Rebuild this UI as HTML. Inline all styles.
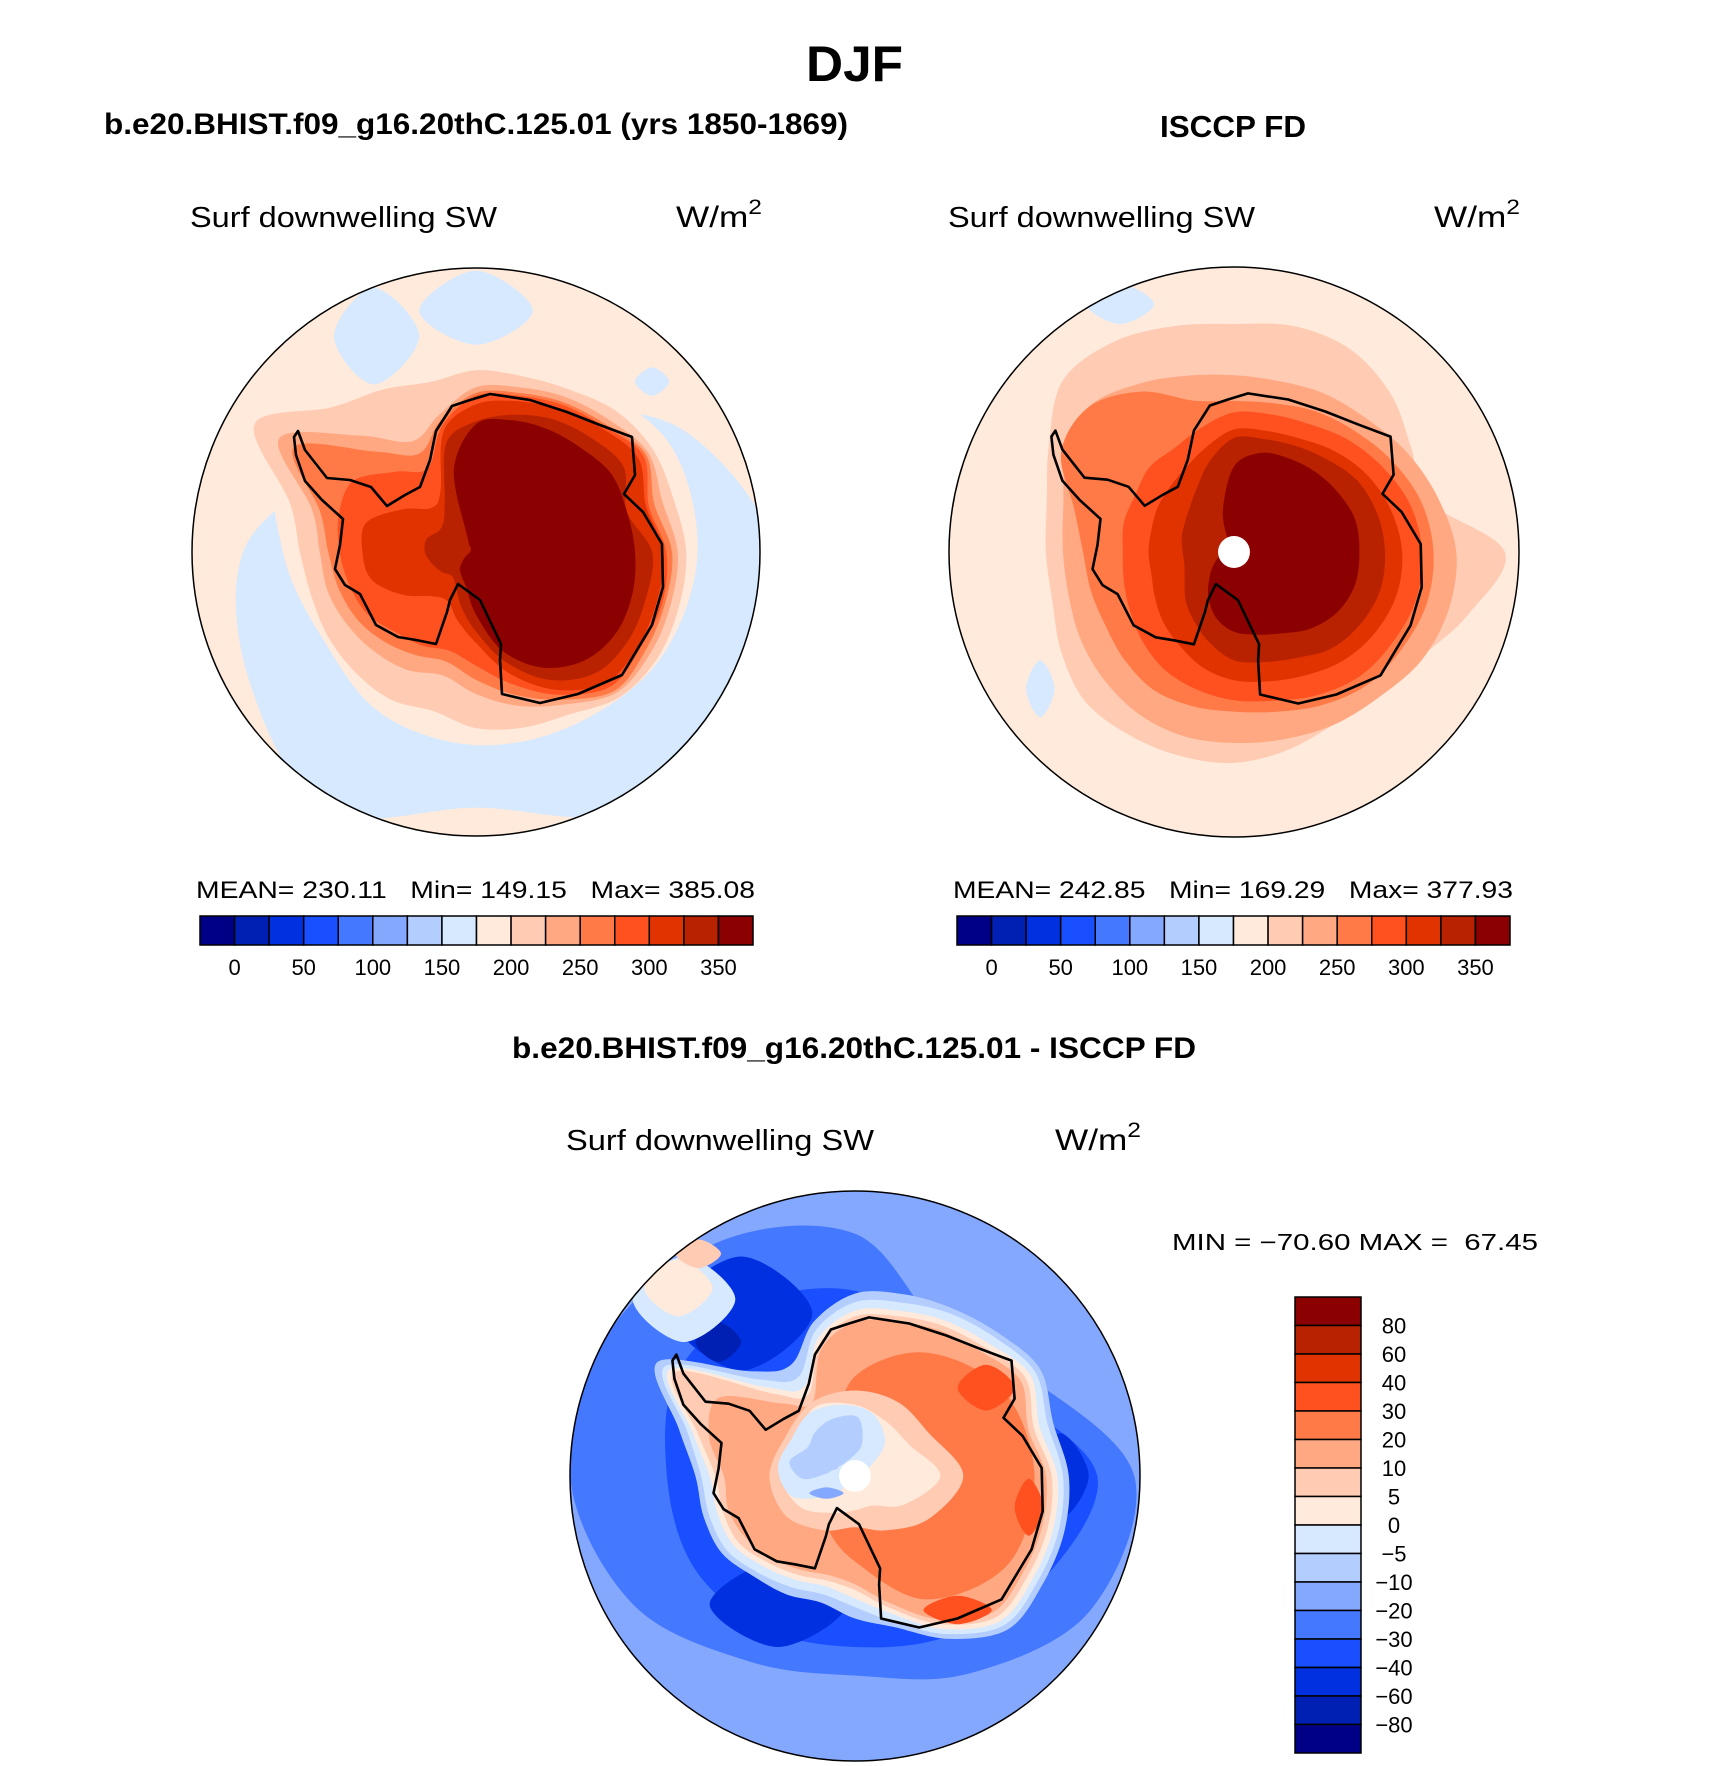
<!DOCTYPE html>
<html><head><meta charset="utf-8"><title>DJF Surf downwelling SW</title>
<style>html,body{margin:0;padding:0;background:#fff}svg{display:block}
text{font-family:"Liberation Sans",Arial,sans-serif;fill:#000}</style></head>
<body>
<svg id="fig" width="1710" height="1766" viewBox="0 0 1710 1766" xmlns="http://www.w3.org/2000/svg">
<rect width="1710" height="1766" fill="#fff"/>
<text x="806" y="81" font-size="50" font-weight="bold" textLength="97" lengthAdjust="spacingAndGlyphs">DJF</text>
<text x="104" y="134" font-size="30" font-weight="bold" textLength="744" lengthAdjust="spacingAndGlyphs">b.e20.BHIST.f09_g16.20thC.125.01 (yrs 1850-1869)</text>
<text x="1160" y="137" font-size="31" font-weight="bold" textLength="146" lengthAdjust="spacingAndGlyphs">ISCCP FD</text>
<text x="512" y="1058" font-size="30" font-weight="bold" textLength="684" lengthAdjust="spacingAndGlyphs">b.e20.BHIST.f09_g16.20thC.125.01 - ISCCP FD</text>

<text x="190" y="227" font-size="29" textLength="307" lengthAdjust="spacingAndGlyphs">Surf  downwelling  SW</text>
<text x="676" y="227" font-size="30" textLength="86" lengthAdjust="spacingAndGlyphs">W/m<tspan font-size="21" dy="-13">2</tspan></text>
<text x="948" y="227" font-size="29" textLength="307" lengthAdjust="spacingAndGlyphs">Surf  downwelling  SW</text>
<text x="1434" y="227" font-size="30" textLength="86" lengthAdjust="spacingAndGlyphs">W/m<tspan font-size="21" dy="-13">2</tspan></text>
<text x="566" y="1150" font-size="29" textLength="308" lengthAdjust="spacingAndGlyphs">Surf  downwelling  SW</text>
<text x="1055" y="1150" font-size="30" textLength="86" lengthAdjust="spacingAndGlyphs">W/m<tspan font-size="21" dy="-13">2</tspan></text>

<text x="196" y="898" font-size="24" textLength="559" lengthAdjust="spacingAndGlyphs" xml:space="preserve">MEAN= 230.11   Min= 149.15   Max= 385.08</text>
<text x="953" y="898" font-size="24" textLength="560" lengthAdjust="spacingAndGlyphs" xml:space="preserve">MEAN= 242.85   Min= 169.29   Max= 377.93</text>
<text x="1172" y="1250" font-size="23" textLength="366" lengthAdjust="spacingAndGlyphs" xml:space="preserve">MIN = −70.60 MAX =  67.45</text>

<defs>
<clipPath id="clipTL"><circle cx="476" cy="552" r="284"/></clipPath>
<clipPath id="clipTR"><circle cx="1234" cy="552" r="285"/></clipPath>
<clipPath id="clipB"><circle cx="855" cy="1476" r="285"/></clipPath>
</defs>
<g id="mapTL" clip-path="url(#clipTL)"></g>
<g id="mapTR" clip-path="url(#clipTR)"></g>
<g id="mapB" clip-path="url(#clipB)"></g>
<g id="overlay"></g>
<g id="cbars"></g>
</svg>
<script>
// ---------- palette & colorbar data ----------
const palette = ['#000087','#0020b4','#0030e0','#1a4fff','#4478ff','#85a8ff','#b4cdff','#d6e9ff','#ffeadb','#ffcbb3','#ffa882','#ff7a46','#ff5020','#e13300','#b82200','#8b0000'];
const absTickLabels = ['0','50','100','150','200','250','300','350'];
const absTickBoundary = [1,3,5,7,9,11,13,15];
const diffTickLabels = ['80','60','40','30','20','10','5','0','−5','−10','−20','−30','−40','−60','−80'];

// ---------- top-left (model) field: contour shapes, normalized to disk radius ----------
const tlLevel = [7,8,7,7,7,9,10,11,12,13,14,15];
const tlCx = [0,0,-0.36,0.0,0.62,0,0,0,0,0,0,0];
const tlCy = [0,0,0.76,0.85,0.6,0,0,0,0,0,0,0];
const tlRadii = [
 [1.05,0.85,0.6,0.6,0.6,0.6,0.82,0.92,1.05,0.9,1.05,1.05],
 [0.78,0.78,0.7,0.7,0.7,0.8,0.68,0.62,0.66,0.68,0.7,0.75],
 [0.16,0.17,0.14,0.17],
 [0.2,0.14,0.2,0.12],
 [0.06,0.05,0.06,0.05],
 [0.74,0.72,0.72,0.7,0.66,0.64,0.64,0.62,0.66,0.72,0.9,0.68,0.62,0.6,0.6,0.6,0.6,0.58,0.62,0.64,0.66,0.72,0.74,0.74],
 [0.71,0.68,0.7,0.66,0.63,0.6,0.58,0.5,0.45,0.58,0.8,0.6,0.55,0.54,0.52,0.5,0.48,0.45,0.5,0.56,0.62,0.7,0.71,0.71],
 [0.69,0.65,0.69,0.64,0.61,0.58,0.56,0.48,0.4,0.5,0.74,0.57,0.52,0.5,0.48,0.45,0.42,0.4,0.45,0.52,0.6,0.69,0.69,0.69],
 [0.67,0.63,0.68,0.63,0.6,0.57,0.55,0.46,0.34,0.4,0.5,0.5,0.48,0.46,0.44,0.4,0.38,0.36,0.4,0.48,0.58,0.67,0.67,0.68],
 [0.66,0.62,0.66,0.62,0.58,0.55,0.52,0.44,0.25,0.22,0.3,0.4,0.4,0.38,0.3,0.22,0.2,0.25,0.32,0.44,0.56,0.65,0.66,0.66],
 [0.62,0.55,0.6,0.57,0.54,0.5,0.46,0.4,0.22,0.16,0.15,0.18,0.18,0.16,0.14,0.12,0.14,0.2,0.28,0.4,0.52,0.6,0.62,0.62],
 [0.56,0.55,0.55,0.52,0.5,0.48,0.45,0.3,0.06,0.03,0.02,0.02,0.02,0.03,0.05,0.08,0.1,0.13,0.22,0.36,0.47,0.54,0.57,0.57]
];

// ---------- top-right (ISCCP) field ----------
const trLevel = [7,7,9,10,11,12,13,14,15];
const trCx = [-0.4,-0.68,0,0,0,0,0,0,0];
const trCy = [0.87,-0.48,0,0,0,0,0,0,0];
const trRadii = [
 [0.12,0.07,0.12,0.07],
 [0.05,0.1,0.05,0.1],
 [0.95,0.7,0.72,0.78,0.82,0.82,0.8,0.82,0.85,0.85,0.75,0.68,0.66,0.66,0.7,0.74,0.74,0.74,0.74,0.72,0.7,0.72,0.75,0.85],
 [0.78,0.74,0.7,0.66,0.64,0.62,0.62,0.64,0.68,0.72,0.68,0.62,0.6,0.6,0.62,0.64,0.66,0.67,0.67,0.68,0.7,0.72,0.76,0.78],
 [0.7,0.68,0.64,0.6,0.57,0.54,0.53,0.55,0.65,0.72,0.7,0.58,0.53,0.52,0.52,0.54,0.56,0.56,0.56,0.58,0.62,0.66,0.68,0.7],
 [0.66,0.64,0.6,0.56,0.52,0.5,0.49,0.45,0.42,0.42,0.4,0.4,0.39,0.4,0.42,0.45,0.48,0.5,0.52,0.54,0.58,0.62,0.64,0.66],
 [0.59,0.57,0.54,0.5,0.46,0.44,0.43,0.38,0.34,0.32,0.31,0.3,0.3,0.3,0.32,0.35,0.38,0.42,0.45,0.47,0.5,0.54,0.57,0.59],
 [0.53,0.52,0.5,0.46,0.43,0.41,0.4,0.33,0.26,0.22,0.2,0.19,0.18,0.18,0.2,0.24,0.28,0.33,0.38,0.4,0.43,0.48,0.51,0.53],
 [0.44,0.44,0.42,0.4,0.38,0.36,0.3,0.15,0.04,0.03,0.03,0.03,0.03,0.05,0.08,0.12,0.18,0.24,0.28,0.3,0.33,0.38,0.42,0.44]
];

// ---------- bottom (difference) field ----------
const bLevel = [4,3,2,2,2,1,7,8,9,6,7,8,9,10,11,12,12,12,9,8,7,6,5];
const bCx = [0,0,-0.4,-0.27,0.72,-0.48,-0.6,-0.62,-0.55,0,0,0,0,0,0,0.46,0.36,0.61,0,0,-0.05,-0.08,-0.1];
const bCy = [0,0,0.57,-0.45,0.0,0.47,0.62,0.66,0.78,0,0,0,0,0,0,0.31,-0.47,-0.11,0,0,0.03,0.05,-0.06];
const bRadii = [
 [0.98,0.7,0.6,0.85,0.95,1.0,1.0,0.9,0.75,0.7,0.8,0.95],
 [0.85,0.6,0.55,0.65,0.7,0.72,0.66,0.65,0.62,0.6,0.65,0.75],
 [0.25,0.2,0.25,0.2],
 [0.24,0.15,0.24,0.15],
 [0.1,0.15,0.1,0.15],
 [0.08,0.07,0.08,0.07],
 [0.18,0.15,0.18,0.15],
 [0.12,0.1,0.12,0.1],
 [0.08,0.05,0.08,0.05],
 [0.75,0.72,0.75,0.71,0.68,0.66,0.64,0.56,0.45,0.52,0.8,0.64,0.56,0.55,0.54,0.5,0.48,0.46,0.5,0.55,0.66,0.76,0.76,0.76],
 [0.73,0.7,0.73,0.69,0.66,0.63,0.61,0.53,0.4,0.48,0.77,0.61,0.54,0.53,0.52,0.48,0.45,0.43,0.46,0.53,0.64,0.74,0.74,0.74],
 [0.71,0.67,0.71,0.66,0.63,0.6,0.58,0.5,0.36,0.44,0.75,0.59,0.51,0.5,0.49,0.45,0.42,0.4,0.43,0.5,0.62,0.72,0.72,0.72],
 [0.69,0.65,0.69,0.64,0.61,0.58,0.56,0.48,0.33,0.41,0.73,0.57,0.49,0.48,0.47,0.43,0.4,0.38,0.4,0.48,0.6,0.7,0.7,0.7],
 [0.67,0.63,0.67,0.62,0.59,0.56,0.54,0.46,0.3,0.36,0.55,0.53,0.46,0.46,0.44,0.41,0.38,0.36,0.38,0.46,0.58,0.68,0.68,0.68],
 [0.63,0.6,0.5,0.35,0.15,0.1,0.1,0.12,0.2,0.3,0.5,0.62],
 [0.1,0.08,0.1,0.08],
 [0.12,0.05,0.12,0.05],
 [0.05,0.1,0.05,0.1],
 [0.38,0.3,0.3,0.3,0.3,0.28,0.3,0.28,0.22,0.18,0.22,0.3],
 [0.3,0.22,0.22,0.25,0.28,0.24,0.26,0.22,0.15,0.12,0.12,0.2],
 [0.1,0.18,0.22,0.22,0.22,0.2,0.22,0.2,0.12,0.08,0.06,0.06],
 [0.05,0.12,0.18,0.15,0.12,0.1,0.15,0.12,0.05,0.03,0.03,0.03],
 [0.06,0.02,0.06,0.02]
];

// ---------- coastline geometry (reference-panel pixel coords, center 476,552, r 284) ----------
const coastPx = [[452,406],[470,400],[490,394],[530,400],[567,412],[600,425],[632,437],[635,475],[624,494],[643,512],[662,544],[663,587],[652,625],[622,675],[578,694],[540,703],[502,694],[500,660],[501,644],[480,600],[458,584],[450,600],[447,612],[436,644],[416,640],[398,637],[376,625],[360,594],[345,585],[335,569],[340,545],[343,519],[322,500],[305,481],[296,455],[294,437],[298,431],[305,450],[327,478],[350,480],[371,487],[387,506],[405,495],[420,487],[430,460],[436,431]];

const NS = 'http://www.w3.org/2000/svg';
function mk(tag, attrs, parent){const e=document.createElementNS(NS,tag);for(const k in attrs)e.setAttribute(k,attrs[k]);parent.appendChild(e);return e;}
function shapePath(cx,cy,R,ox,oy,radii){
  const n=radii.length;const pts=[];
  for(let i=0;i<n;i++){const a=2*Math.PI*i/n;pts.push([cx+(ox+radii[i]*Math.cos(a))*R, cy-(oy+radii[i]*Math.sin(a))*R]);}
  let d='M'+pts[0][0].toFixed(1)+','+pts[0][1].toFixed(1);
  for(let i=0;i<n;i++){
    const p0=pts[(i-1+n)%n],p1=pts[i],p2=pts[(i+1)%n],p3=pts[(i+2)%n];
    const c1=[p1[0]+(p2[0]-p0[0])/6,p1[1]+(p2[1]-p0[1])/6];
    const c2=[p2[0]-(p3[0]-p1[0])/6,p2[1]-(p3[1]-p1[1])/6];
    d+='C'+c1[0].toFixed(1)+','+c1[1].toFixed(1)+' '+c2[0].toFixed(1)+','+c2[1].toFixed(1)+' '+p2[0].toFixed(1)+','+p2[1].toFixed(1);
  }
  return d+'Z';
}
function drawMap(gid,cx,cy,R,bg,levels,oxs,oys,radii,hasHole){
  const g=document.getElementById(gid);
  const b=mk('rect',{x:cx-R,y:cy-R,width:2*R,height:2*R,fill:palette[bg]},g);
  
  
  for(let i=0;i<levels.length;i++){
    const p=mk('path',{d:shapePath(cx,cy,R,oxs[i],oys[i],radii[i]),fill:palette[levels[i]]},g);
    
    
  }
  const ov=document.getElementById('overlay');
  const cp=coastPx.map(q=>[cx+(q[0]-476)/284*R, cy+(q[1]-552)/284*R]);
  const coast=mk('path',{d:'M'+cp.map(q=>q[0].toFixed(1)+','+q[1].toFixed(1)).join('L')+'Z',fill:'none',stroke:'#000','stroke-width':2.6,'stroke-linejoin':'round'},ov);
  
  
  if(hasHole){
    const h=mk('circle',{cx:cx,cy:cy,r:0.056*R,fill:'#fff'},ov);
    
    
  }
  const c=mk('circle',{cx:cx,cy:cy,r:R,fill:'none',stroke:'#000','stroke-width':1.5},ov);
  
  
}
drawMap('mapTL',476,552,284,8,tlLevel,tlCx,tlCy,tlRadii,false);
drawMap('mapTR',1234,552,285,8,trLevel,trCx,trCy,trRadii,true);
drawMap('mapB',855,1476,285,5,bLevel,bCx,bCy,bRadii,true);

// ---------- colorbars ----------
const cb=document.getElementById('cbars');
function hbar(x0,x1,y0,y1){
  const w=(x1-x0)/palette.length;
  for(let i=0;i<palette.length;i++){
    const r=mk('rect',{x:x0+i*w,y:y0,width:w,height:y1-y0,fill:palette[i],stroke:'#000','stroke-width':1.5},cb);
    
    
  }
  for(let k=0;k<absTickLabels.length;k++){
    const t=mk('text',{x:x0+absTickBoundary[k]*w,y:y1+30,'font-size':22,'text-anchor':'middle'},cb);
    t.textContent=absTickLabels[k];
    
    
  }
}
hbar(200,753,916,945);
hbar(957,1510,916,945);
(function(){
  const x0=1295,x1=1361,y0=1297,y1=1753;const h=(y1-y0)/palette.length;
  for(let i=0;i<palette.length;i++){
    const r=mk('rect',{x:x0,y:y0+i*h,width:x1-x0,height:h,fill:palette[palette.length-1-i],stroke:'#000','stroke-width':1.5},cb);
    
    
  }
  for(let k=0;k<diffTickLabels.length;k++){
    const t=mk('text',{x:1394,y:y0+(k+1)*h+8,'font-size':22,'text-anchor':'middle'},cb);
    t.textContent=diffTickLabels[k];
    
    
  }
})();
</script>
</body></html>
